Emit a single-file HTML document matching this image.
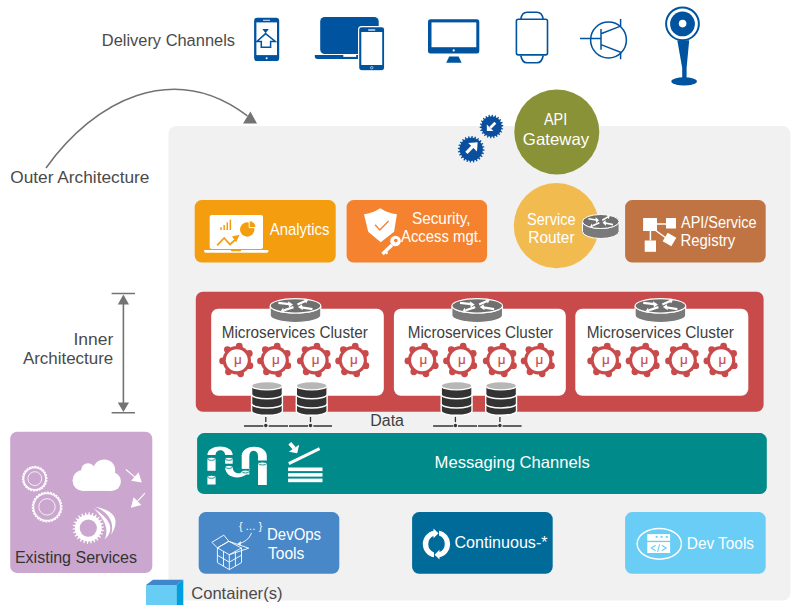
<!DOCTYPE html>
<html><head><meta charset="utf-8"><title>Microservices Architecture</title>
<style>html,body{margin:0;padding:0;background:#fff;width:791px;height:605px;overflow:hidden}svg{display:block}</style>
</head><body>
<svg width="791" height="605" viewBox="0 0 791 605" font-family='"Liberation Sans", sans-serif'><rect x="168.5" y="126" width="622" height="474.5" rx="8" fill="#f1f1f1"/>
<text x="101.8" y="46" font-size="16.3" fill="#4a4a4a" text-anchor="start" textLength="133.2" lengthAdjust="spacingAndGlyphs" >Delivery Channels</text>
<rect x="254.1" y="17.7" width="25.1" height="43.4" rx="3.2" fill="#00539f"/>
<rect x="256.4" y="22.4" width="20.6" height="32.7" fill="#fff"/>
<rect x="263" y="19.8" width="7" height="0.9" fill="#fff"/>
<circle cx="266.6" cy="58.2" r="1" fill="#fff"/>
<path d="M262.4,29 L268.8,29 L265.6,33.2 Z" fill="#00539f"/>
<path d="M265.6,33.6 L275.3,41.5 L270.6,41.5 L270.6,47.2 L261.3,47.2 L261.3,41.5 L256.9,41.5 Z" fill="none" stroke="#00539f" stroke-width="1.5" stroke-linejoin="miter"/>
<rect x="320.2" y="17" width="58.5" height="37" rx="4.5" fill="#00539f"/>
<path d="M314.8,54.9 L362,54.9 L362,58.9 L317,58.9 Q314.8,58.9 314.8,56.5 Z" fill="#00539f"/>
<rect x="343.3" y="54.9" width="12.9" height="2" fill="#fff"/>
<rect x="358.6" y="26.6" width="26.1" height="44.2" rx="3" fill="#00539f" stroke="#fff" stroke-width="1.2"/>
<rect x="361.3" y="32" width="20.9" height="33" fill="#fff"/>
<rect x="368.2" y="29.4" width="7" height="1.2" fill="#fff"/>
<circle cx="371.7" cy="67.7" r="1.2" fill="none" stroke="#fff" stroke-width="0.6"/>
<rect x="428" y="19.2" width="51.3" height="34.2" rx="2.5" fill="#00539f"/>
<rect x="431.5" y="22.4" width="44.8" height="24.8" fill="#fff"/>
<circle cx="453.7" cy="50.4" r="1.1" fill="#fff"/>
<path d="M449.2,56.4 L458.6,56.4 L461.6,62.7 L446.2,62.7 Z" fill="#00539f"/>
<rect x="516.4" y="19.3" width="31.1" height="35.6" rx="1.8" fill="none" stroke="#00539f" stroke-width="1.6"/>
<path d="M520.8,19 C521.6,14.5 523,12.2 527,12.2 L537,12.2 C541,12.2 542.4,14.5 543.2,19" fill="none" stroke="#00539f" stroke-width="1.6"/>
<path d="M520.8,55.5 C521.6,60.2 523,62.7 527,62.7 L537,62.7 C541,62.7 542.4,60.2 543.2,55.5" fill="none" stroke="#00539f" stroke-width="1.6"/>
<g fill="none" stroke="#00539f" stroke-width="1.5"><circle cx="608.5" cy="40" r="17.9"/><path d="M580,38.6 H601 M601,29 V49.7 M601,33.8 L620.6,26.1 V19.1 M601,44.6 L620.6,52.2 V59.2"/></g>
<circle cx="682.5" cy="23.8" r="16.4" fill="none" stroke="#00539f" stroke-width="2"/>
<circle cx="682.5" cy="23.9" r="12.4" fill="#00539f"/>
<circle cx="682.6" cy="23.6" r="3.8" fill="#fff"/>
<path d="M677.3,40.3 L689.2,40.3 L686.6,68 L686.6,79 L682.2,79 L682.2,68 Z" fill="#00539f"/>
<ellipse cx="684.1" cy="81.4" rx="12.8" ry="4.1" fill="#00539f"/>
<path d="M46,168 C94.3,100.4 173.2,59.7 247.4,115.8" fill="none" stroke="#737373" stroke-width="1.6"/>
<path d="M250.4,111.4 L257,123.5 L243,123.5 Z" fill="#737373"/>
<text x="10.2" y="183" font-size="17" fill="#4a4a4a" text-anchor="start" textLength="139.3" lengthAdjust="spacingAndGlyphs" >Outer Architecture</text>
<g stroke="#737373" stroke-width="1.6"><path d="M111.6,293.5 H135 M111.6,412.7 H135 M123.4,300 V406"/></g>
<path d="M123.4,294.5 L129,304.6 L117.8,304.6 Z M123.4,412 L129,402.6 L117.8,402.6 Z" fill="#737373"/>
<text x="113.3" y="344.8" font-size="16.9" fill="#4a4a4a" text-anchor="end" textLength="39.8" lengthAdjust="spacingAndGlyphs" >Inner</text>
<text x="113.3" y="364.2" font-size="16.9" fill="#4a4a4a" text-anchor="end" textLength="90.4" lengthAdjust="spacingAndGlyphs" >Architecture</text>
<circle cx="556.8" cy="131.9" r="42.5" fill="#8a9237"/>
<text x="555.6" y="125.2" font-size="16.5" fill="#fff" text-anchor="middle" textLength="23.3" lengthAdjust="spacingAndGlyphs" >API</text>
<text x="556" y="144.7" font-size="16.5" fill="#fff" text-anchor="middle" textLength="66.3" lengthAdjust="spacingAndGlyphs" >Gateway</text>
<path d="M491.50,116.30 L491.77,114.70 L492.91,114.78 L492.95,116.40 L494.37,116.71 L495.08,115.26 L496.16,115.66 L495.74,117.22 L497.01,117.92 L498.10,116.72 L499.02,117.41 L498.18,118.79 L499.21,119.82 L500.59,118.98 L501.28,119.90 L500.08,120.99 L500.78,122.26 L502.34,121.84 L502.74,122.92 L501.29,123.63 L501.60,125.05 L503.22,125.09 L503.30,126.23 L501.70,126.50 L501.60,127.95 L503.14,128.45 L502.90,129.56 L501.29,129.37 L500.78,130.74 L502.12,131.65 L501.57,132.65 L500.08,132.01 L499.21,133.18 L500.24,134.43 L499.43,135.24 L498.18,134.21 L497.01,135.08 L497.65,136.57 L496.65,137.12 L495.74,135.78 L494.37,136.29 L494.56,137.90 L493.45,138.14 L492.95,136.60 L491.50,136.70 L491.23,138.30 L490.09,138.22 L490.05,136.60 L488.63,136.29 L487.92,137.74 L486.84,137.34 L487.26,135.78 L485.99,135.08 L484.90,136.28 L483.98,135.59 L484.82,134.21 L483.79,133.18 L482.41,134.02 L481.72,133.10 L482.92,132.01 L482.22,130.74 L480.66,131.16 L480.26,130.08 L481.71,129.37 L481.40,127.95 L479.78,127.91 L479.70,126.77 L481.30,126.50 L481.40,125.05 L479.86,124.55 L480.10,123.44 L481.71,123.63 L482.22,122.26 L480.88,121.35 L481.43,120.35 L482.92,120.99 L483.79,119.82 L482.76,118.57 L483.57,117.76 L484.82,118.79 L485.99,117.92 L485.35,116.43 L486.35,115.88 L487.26,117.22 L488.63,116.71 L488.44,115.10 L489.55,114.86 L490.05,116.40Z" fill="#0a4f9e"/>
<path d="M471.20,137.70 L471.48,136.00 L472.66,136.08 L472.71,137.80 L474.20,138.10 L474.91,136.53 L476.03,136.91 L475.64,138.58 L477.00,139.25 L478.09,137.92 L479.07,138.58 L478.26,140.10 L479.40,141.10 L480.80,140.09 L481.58,140.98 L480.40,142.24 L481.25,143.50 L482.85,142.89 L483.38,143.95 L481.92,144.86 L482.40,146.30 L484.12,146.13 L484.35,147.29 L482.70,147.79 L482.80,149.30 L484.50,149.58 L484.42,150.76 L482.70,150.81 L482.40,152.30 L483.97,153.01 L483.59,154.13 L481.92,153.74 L481.25,155.10 L482.58,156.19 L481.92,157.17 L480.40,156.36 L479.40,157.50 L480.41,158.90 L479.52,159.68 L478.26,158.50 L477.00,159.35 L477.61,160.95 L476.55,161.48 L475.64,160.02 L474.20,160.50 L474.37,162.22 L473.21,162.45 L472.71,160.80 L471.20,160.90 L470.92,162.60 L469.74,162.52 L469.69,160.80 L468.20,160.50 L467.49,162.07 L466.37,161.69 L466.76,160.02 L465.40,159.35 L464.31,160.68 L463.33,160.02 L464.14,158.50 L463.00,157.50 L461.60,158.51 L460.82,157.62 L462.00,156.36 L461.15,155.10 L459.55,155.71 L459.02,154.65 L460.48,153.74 L460.00,152.30 L458.28,152.47 L458.05,151.31 L459.70,150.81 L459.60,149.30 L457.90,149.02 L457.98,147.84 L459.70,147.79 L460.00,146.30 L458.43,145.59 L458.81,144.47 L460.48,144.86 L461.15,143.50 L459.82,142.41 L460.48,141.43 L462.00,142.24 L463.00,141.10 L461.99,139.70 L462.88,138.92 L464.14,140.10 L465.40,139.25 L464.79,137.65 L465.85,137.12 L466.76,138.58 L468.20,138.10 L468.03,136.38 L469.19,136.15 L469.69,137.80Z" fill="#0a4f9e"/>
<path d="M495.3,122.8 L490.3,127.8" stroke="#fff" stroke-width="2.7"/><path d="M486.9,131.1 L486.8,124.4 L493.4,131 Z" fill="#fff"/>
<path d="M466.4,152.8 L472.5,146.7" stroke="#fff" stroke-width="3.2"/><path d="M477.6,142.3 L477,151.5 L468.2,143 Z" fill="#fff"/>
<rect x="194.7" y="200.1" width="141" height="62.4" rx="7" fill="#f39d0f"/>
<rect x="346.6" y="200.1" width="140.5" height="62.4" rx="7" fill="#f5822f"/>
<circle cx="556.4" cy="225.7" r="42.6" fill="#f2bb50"/>
<rect x="625.1" y="200.1" width="140.6" height="62.4" rx="7" fill="#c07443"/>
<rect x="209.7" y="214.9" width="53.3" height="34.2" rx="2" fill="#fff"/>
<path d="M204.2,250 H268.3 V251.3 Q268.3,252.8 266.5,252.8 H206 Q204.2,252.8 204.2,251.3 Z" fill="#fff"/>
<rect x="231" y="250" width="10" height="1.2" fill="#f39d0f"/>
<g fill="#f39d0f"><rect x="220.3" y="227.2" width="1.5" height="2.8"/><rect x="223.4" y="225" width="1.5" height="5"/><rect x="226.5" y="222.4" width="1.5" height="7.6"/><rect x="229.6" y="219.6" width="1.5" height="10.4"/></g>
<circle cx="247.2" cy="229.5" r="7.2" fill="#f39d0f"/><path d="M249.2,220.6 A7.2,7.2 0 0 1 256.1,227.6 L249.2,227.6 Z" fill="#f39d0f" stroke="#fff" stroke-width="1"/>
<path d="M217.1,245.4 L224.2,237.9 L229.9,244.5 L235,240" fill="none" stroke="#f39d0f" stroke-width="1.7"/><path d="M239.5,234.8 L232,236.4 L236.2,242.2 Z" fill="#f39d0f"/>
<text x="269.7" y="235.2" font-size="16" fill="#fff" text-anchor="start" textLength="59.7" lengthAdjust="spacingAndGlyphs" >Analytics</text>
<path d="M380.2,208.2 Q388,213.2 396.9,214.2 L394.1,231.8 L380.7,242.2 L368.2,231.8 L364,214.2 Q372.4,213.2 380.2,208.2 Z" fill="#fff"/>
<path d="M375.1,224.8 L379.8,229.9 L388.6,221.1" fill="none" stroke="#f5822f" stroke-width="1.4"/>
<circle cx="395.5" cy="241" r="5.9" fill="#fff" stroke="#f5822f" stroke-width="1.2"/><circle cx="395.8" cy="240.6" r="1.8" fill="#f5822f"/>
<path d="M392,245 L382.5,254" stroke="#fff" stroke-width="3.4"/><path d="M385.2,251.5 L387.5,253.8" stroke="#fff" stroke-width="2.2"/>
<text x="441.2" y="224.4" font-size="16" fill="#fff" text-anchor="middle" textLength="58.5" lengthAdjust="spacingAndGlyphs" >Security,</text>
<text x="441.5" y="242" font-size="16" fill="#fff" text-anchor="middle" textLength="81" lengthAdjust="spacingAndGlyphs" >Access mgt.</text>
<text x="551.3" y="225.2" font-size="15.8" fill="#fff" text-anchor="middle" textLength="48.5" lengthAdjust="spacingAndGlyphs" >Service</text>
<text x="551.4" y="242.7" font-size="15.8" fill="#fff" text-anchor="middle" textLength="46.3" lengthAdjust="spacingAndGlyphs" >Router</text>
<g fill="#fff"><rect x="643.1" y="218" width="13.9" height="13"/><rect x="666" y="218" width="10" height="10.5"/><rect x="644.7" y="240.5" width="11.3" height="11.3"/><rect x="664.5" y="234.5" width="10" height="10" transform="rotate(30 669.5 239.5)"/></g>
<path d="M657,224 H666 M650.4,231 V240.5 M655,230 L666,238" stroke="#fff" stroke-width="1.5"/>
<text x="681" y="228" font-size="15.8" fill="#fff" text-anchor="start" textLength="75.6" lengthAdjust="spacingAndGlyphs" >API/Service</text>
<text x="680.5" y="246" font-size="15.8" fill="#fff" text-anchor="start" textLength="54.7" lengthAdjust="spacingAndGlyphs" >Registry</text>
<rect x="195.8" y="291.8" width="567.8" height="120" rx="7" fill="#c94a4b"/>
<rect x="211.2" y="308.8" width="172.6" height="87" rx="7" fill="#fff"/>
<rect x="393.9" y="308.8" width="171.9" height="87" rx="7" fill="#fff"/>
<rect x="575.3" y="308.8" width="173.0" height="87" rx="7" fill="#fff"/>
<circle cx="236.8" cy="360.2" r="14.2" fill="#c94a4b"/><circle cx="239.27" cy="346.22" r="3.4" fill="#c94a4b"/><circle cx="249.27" cy="353.41" r="3.4" fill="#c94a4b"/><circle cx="249.88" cy="365.72" r="3.4" fill="#c94a4b"/><circle cx="240.65" cy="373.87" r="3.4" fill="#c94a4b"/><circle cx="228.51" cy="371.73" r="3.4" fill="#c94a4b"/><circle cx="222.62" cy="360.91" r="3.4" fill="#c94a4b"/><circle cx="227.40" cy="349.55" r="3.4" fill="#c94a4b"/><circle cx="236.8" cy="360.2" r="11" fill="#fff"/><text x="238.0" y="363.5" font-size="13.5" fill="#c94a4b" stroke="#c94a4b" stroke-width="0.15" text-anchor="middle">μ</text>
<circle cx="274.7" cy="360.2" r="14.2" fill="#c94a4b"/><circle cx="277.17" cy="346.22" r="3.4" fill="#c94a4b"/><circle cx="287.17" cy="353.41" r="3.4" fill="#c94a4b"/><circle cx="287.78" cy="365.72" r="3.4" fill="#c94a4b"/><circle cx="278.55" cy="373.87" r="3.4" fill="#c94a4b"/><circle cx="266.41" cy="371.73" r="3.4" fill="#c94a4b"/><circle cx="260.52" cy="360.91" r="3.4" fill="#c94a4b"/><circle cx="265.30" cy="349.55" r="3.4" fill="#c94a4b"/><circle cx="274.7" cy="360.2" r="11" fill="#fff"/><text x="275.9" y="363.5" font-size="13.5" fill="#c94a4b" stroke="#c94a4b" stroke-width="0.15" text-anchor="middle">μ</text>
<circle cx="314.5" cy="360.2" r="14.2" fill="#c94a4b"/><circle cx="316.97" cy="346.22" r="3.4" fill="#c94a4b"/><circle cx="326.97" cy="353.41" r="3.4" fill="#c94a4b"/><circle cx="327.58" cy="365.72" r="3.4" fill="#c94a4b"/><circle cx="318.35" cy="373.87" r="3.4" fill="#c94a4b"/><circle cx="306.21" cy="371.73" r="3.4" fill="#c94a4b"/><circle cx="300.32" cy="360.91" r="3.4" fill="#c94a4b"/><circle cx="305.10" cy="349.55" r="3.4" fill="#c94a4b"/><circle cx="314.5" cy="360.2" r="11" fill="#fff"/><text x="315.7" y="363.5" font-size="13.5" fill="#c94a4b" stroke="#c94a4b" stroke-width="0.15" text-anchor="middle">μ</text>
<circle cx="352.8" cy="360.2" r="14.2" fill="#c94a4b"/><circle cx="355.27" cy="346.22" r="3.4" fill="#c94a4b"/><circle cx="365.27" cy="353.41" r="3.4" fill="#c94a4b"/><circle cx="365.88" cy="365.72" r="3.4" fill="#c94a4b"/><circle cx="356.65" cy="373.87" r="3.4" fill="#c94a4b"/><circle cx="344.51" cy="371.73" r="3.4" fill="#c94a4b"/><circle cx="338.62" cy="360.91" r="3.4" fill="#c94a4b"/><circle cx="343.40" cy="349.55" r="3.4" fill="#c94a4b"/><circle cx="352.8" cy="360.2" r="11" fill="#fff"/><text x="354.0" y="363.5" font-size="13.5" fill="#c94a4b" stroke="#c94a4b" stroke-width="0.15" text-anchor="middle">μ</text>
<circle cx="422.1" cy="360.2" r="14.2" fill="#c94a4b"/><circle cx="424.57" cy="346.22" r="3.4" fill="#c94a4b"/><circle cx="434.57" cy="353.41" r="3.4" fill="#c94a4b"/><circle cx="435.18" cy="365.72" r="3.4" fill="#c94a4b"/><circle cx="425.95" cy="373.87" r="3.4" fill="#c94a4b"/><circle cx="413.81" cy="371.73" r="3.4" fill="#c94a4b"/><circle cx="407.92" cy="360.91" r="3.4" fill="#c94a4b"/><circle cx="412.70" cy="349.55" r="3.4" fill="#c94a4b"/><circle cx="422.1" cy="360.2" r="11" fill="#fff"/><text x="423.3" y="363.5" font-size="13.5" fill="#c94a4b" stroke="#c94a4b" stroke-width="0.15" text-anchor="middle">μ</text>
<circle cx="460.7" cy="360.2" r="14.2" fill="#c94a4b"/><circle cx="463.17" cy="346.22" r="3.4" fill="#c94a4b"/><circle cx="473.17" cy="353.41" r="3.4" fill="#c94a4b"/><circle cx="473.78" cy="365.72" r="3.4" fill="#c94a4b"/><circle cx="464.55" cy="373.87" r="3.4" fill="#c94a4b"/><circle cx="452.41" cy="371.73" r="3.4" fill="#c94a4b"/><circle cx="446.52" cy="360.91" r="3.4" fill="#c94a4b"/><circle cx="451.30" cy="349.55" r="3.4" fill="#c94a4b"/><circle cx="460.7" cy="360.2" r="11" fill="#fff"/><text x="461.9" y="363.5" font-size="13.5" fill="#c94a4b" stroke="#c94a4b" stroke-width="0.15" text-anchor="middle">μ</text>
<circle cx="500.4" cy="360.2" r="14.2" fill="#c94a4b"/><circle cx="502.87" cy="346.22" r="3.4" fill="#c94a4b"/><circle cx="512.87" cy="353.41" r="3.4" fill="#c94a4b"/><circle cx="513.48" cy="365.72" r="3.4" fill="#c94a4b"/><circle cx="504.25" cy="373.87" r="3.4" fill="#c94a4b"/><circle cx="492.11" cy="371.73" r="3.4" fill="#c94a4b"/><circle cx="486.22" cy="360.91" r="3.4" fill="#c94a4b"/><circle cx="491.00" cy="349.55" r="3.4" fill="#c94a4b"/><circle cx="500.4" cy="360.2" r="11" fill="#fff"/><text x="501.59999999999997" y="363.5" font-size="13.5" fill="#c94a4b" stroke="#c94a4b" stroke-width="0.15" text-anchor="middle">μ</text>
<circle cx="538.3" cy="360.2" r="14.2" fill="#c94a4b"/><circle cx="540.77" cy="346.22" r="3.4" fill="#c94a4b"/><circle cx="550.77" cy="353.41" r="3.4" fill="#c94a4b"/><circle cx="551.38" cy="365.72" r="3.4" fill="#c94a4b"/><circle cx="542.15" cy="373.87" r="3.4" fill="#c94a4b"/><circle cx="530.01" cy="371.73" r="3.4" fill="#c94a4b"/><circle cx="524.12" cy="360.91" r="3.4" fill="#c94a4b"/><circle cx="528.90" cy="349.55" r="3.4" fill="#c94a4b"/><circle cx="538.3" cy="360.2" r="11" fill="#fff"/><text x="539.5" y="363.5" font-size="13.5" fill="#c94a4b" stroke="#c94a4b" stroke-width="0.15" text-anchor="middle">μ</text>
<circle cx="604.8" cy="360.2" r="14.2" fill="#c94a4b"/><circle cx="607.27" cy="346.22" r="3.4" fill="#c94a4b"/><circle cx="617.27" cy="353.41" r="3.4" fill="#c94a4b"/><circle cx="617.88" cy="365.72" r="3.4" fill="#c94a4b"/><circle cx="608.65" cy="373.87" r="3.4" fill="#c94a4b"/><circle cx="596.51" cy="371.73" r="3.4" fill="#c94a4b"/><circle cx="590.62" cy="360.91" r="3.4" fill="#c94a4b"/><circle cx="595.40" cy="349.55" r="3.4" fill="#c94a4b"/><circle cx="604.8" cy="360.2" r="11" fill="#fff"/><text x="606.0" y="363.5" font-size="13.5" fill="#c94a4b" stroke="#c94a4b" stroke-width="0.15" text-anchor="middle">μ</text>
<circle cx="643.2" cy="360.2" r="14.2" fill="#c94a4b"/><circle cx="645.67" cy="346.22" r="3.4" fill="#c94a4b"/><circle cx="655.67" cy="353.41" r="3.4" fill="#c94a4b"/><circle cx="656.28" cy="365.72" r="3.4" fill="#c94a4b"/><circle cx="647.05" cy="373.87" r="3.4" fill="#c94a4b"/><circle cx="634.91" cy="371.73" r="3.4" fill="#c94a4b"/><circle cx="629.02" cy="360.91" r="3.4" fill="#c94a4b"/><circle cx="633.80" cy="349.55" r="3.4" fill="#c94a4b"/><circle cx="643.2" cy="360.2" r="11" fill="#fff"/><text x="644.4000000000001" y="363.5" font-size="13.5" fill="#c94a4b" stroke="#c94a4b" stroke-width="0.15" text-anchor="middle">μ</text>
<circle cx="682.7" cy="360.2" r="14.2" fill="#c94a4b"/><circle cx="685.17" cy="346.22" r="3.4" fill="#c94a4b"/><circle cx="695.17" cy="353.41" r="3.4" fill="#c94a4b"/><circle cx="695.78" cy="365.72" r="3.4" fill="#c94a4b"/><circle cx="686.55" cy="373.87" r="3.4" fill="#c94a4b"/><circle cx="674.41" cy="371.73" r="3.4" fill="#c94a4b"/><circle cx="668.52" cy="360.91" r="3.4" fill="#c94a4b"/><circle cx="673.30" cy="349.55" r="3.4" fill="#c94a4b"/><circle cx="682.7" cy="360.2" r="11" fill="#fff"/><text x="683.9000000000001" y="363.5" font-size="13.5" fill="#c94a4b" stroke="#c94a4b" stroke-width="0.15" text-anchor="middle">μ</text>
<circle cx="721.1" cy="360.2" r="14.2" fill="#c94a4b"/><circle cx="723.57" cy="346.22" r="3.4" fill="#c94a4b"/><circle cx="733.57" cy="353.41" r="3.4" fill="#c94a4b"/><circle cx="734.18" cy="365.72" r="3.4" fill="#c94a4b"/><circle cx="724.95" cy="373.87" r="3.4" fill="#c94a4b"/><circle cx="712.81" cy="371.73" r="3.4" fill="#c94a4b"/><circle cx="706.92" cy="360.91" r="3.4" fill="#c94a4b"/><circle cx="711.70" cy="349.55" r="3.4" fill="#c94a4b"/><circle cx="721.1" cy="360.2" r="11" fill="#fff"/><text x="722.3000000000001" y="363.5" font-size="13.5" fill="#c94a4b" stroke="#c94a4b" stroke-width="0.15" text-anchor="middle">μ</text>
<text x="221.7" y="338.1" font-size="16" fill="#404040" text-anchor="start" textLength="146.2" lengthAdjust="spacingAndGlyphs" >Microservices Cluster</text>
<text x="407.8" y="338.1" font-size="16" fill="#404040" text-anchor="start" textLength="145.4" lengthAdjust="spacingAndGlyphs" >Microservices Cluster</text>
<text x="586.8" y="338.1" font-size="16" fill="#404040" text-anchor="start" textLength="147.1" lengthAdjust="spacingAndGlyphs" >Microservices Cluster</text>
<g><path d="M270.2,305.8 A25.3,7.2 0 0 0 320.8,305.8 L320.8,315.3 A25.3,7.2 0 0 1 270.2,315.3 Z" fill="#7a7a7a" stroke="#fff" stroke-width="1.1"/><ellipse cx="295.5" cy="305.8" rx="25.3" ry="7.2" fill="#6f6f6f" stroke="#fff" stroke-width="1.1"/><path d="M278.34,302.94 L289.55,304.22 M312.47,309.05 L301.45,307.38 M293.52,307.08 L284.09,310.24 M297.48,304.52 L305.42,301.07" stroke="#fff" stroke-width="2.28"/><path d="M293.02,304.62 L288.06,301.26 L289.05,307.38 Z M297.98,306.98 L302.94,310.34 L301.95,304.22 Z M280.62,311.32 L284.69,312.61 L283.10,307.87 Z M308.20,299.78 L306.12,303.43 L303.93,298.90 Z" fill="#fff"/></g>
<g><path d="M451.9,305.8 A25.3,7.2 0 0 0 502.5,305.8 L502.5,315.3 A25.3,7.2 0 0 1 451.9,315.3 Z" fill="#7a7a7a" stroke="#fff" stroke-width="1.1"/><ellipse cx="477.2" cy="305.8" rx="25.3" ry="7.2" fill="#6f6f6f" stroke="#fff" stroke-width="1.1"/><path d="M460.04,302.94 L471.25,304.22 M494.17,309.05 L483.15,307.38 M475.22,307.08 L465.79,310.24 M479.18,304.52 L487.12,301.07" stroke="#fff" stroke-width="2.28"/><path d="M474.72,304.62 L469.76,301.26 L470.75,307.38 Z M479.68,306.98 L484.64,310.34 L483.65,304.22 Z M462.32,311.32 L466.39,312.61 L464.80,307.87 Z M489.90,299.78 L487.82,303.43 L485.63,298.90 Z" fill="#fff"/></g>
<g><path d="M635.1,305.8 A25.3,7.2 0 0 0 685.6999999999999,305.8 L685.6999999999999,315.3 A25.3,7.2 0 0 1 635.1,315.3 Z" fill="#7a7a7a" stroke="#fff" stroke-width="1.1"/><ellipse cx="660.4" cy="305.8" rx="25.3" ry="7.2" fill="#6f6f6f" stroke="#fff" stroke-width="1.1"/><path d="M643.24,302.94 L654.45,304.22 M677.37,309.05 L666.35,307.38 M658.42,307.08 L648.99,310.24 M662.38,304.52 L670.32,301.07" stroke="#fff" stroke-width="2.28"/><path d="M657.92,304.62 L652.96,301.26 L653.95,307.38 Z M662.88,306.98 L667.84,310.34 L666.85,304.22 Z M645.52,311.32 L649.59,312.61 L648.00,307.87 Z M673.10,299.78 L671.02,303.43 L668.83,298.90 Z" fill="#fff"/></g>
<g><path d="M582.5,221.5 A18.3,7 0 0 0 619.0999999999999,221.5 L619.0999999999999,231.5 A18.3,7 0 0 1 582.5,231.5 Z" fill="#7a7a7a" stroke="#fff" stroke-width="1"/><ellipse cx="600.8" cy="221.5" rx="18.3" ry="7" fill="#6f6f6f" stroke="#fff" stroke-width="1"/><path d="M588.38,218.72 L596.49,219.97 M613.07,224.66 L605.11,223.03 M599.36,222.75 L592.55,225.82 M602.24,220.25 L607.98,216.90" stroke="#fff" stroke-width="1.65"/><path d="M599.01,220.35 L595.42,217.09 L596.14,223.03 Z M602.59,222.65 L606.18,225.91 L605.46,219.97 Z M590.04,226.87 L592.98,228.12 L591.83,223.51 Z M609.99,215.65 L608.48,219.20 L606.90,214.79 Z" fill="#fff"/></g>
<path d="M251.6,385.7 A15.4,4.2 0 0 1 282.4,385.7 L282.4,411.1 A15.4,4.2 0 0 1 251.6,411.1 Z" fill="#333" stroke="#fff" stroke-width="1.4"/><path d="M251.6,394.5 A15.4,4.2 0 0 0 282.4,394.5" fill="none" stroke="#fff" stroke-width="1.5"/><path d="M251.6,403.7 A15.4,4.2 0 0 0 282.4,403.7" fill="none" stroke="#fff" stroke-width="1.5"/><ellipse cx="267.0" cy="385.7" rx="15.4" ry="4.2" fill="#b7b7b7" stroke="#fff" stroke-width="1.4"/><path d="M265.8,416.90000000000003 V422.1" stroke="#333" stroke-width="1.3"/><circle cx="265.8" cy="425.5" r="1.7" fill="#333"/>
<path d="M296.3,385.7 A15.4,4.2 0 0 1 327.1,385.7 L327.1,411.1 A15.4,4.2 0 0 1 296.3,411.1 Z" fill="#333" stroke="#fff" stroke-width="1.4"/><path d="M296.3,394.5 A15.4,4.2 0 0 0 327.1,394.5" fill="none" stroke="#fff" stroke-width="1.5"/><path d="M296.3,403.7 A15.4,4.2 0 0 0 327.1,403.7" fill="none" stroke="#fff" stroke-width="1.5"/><ellipse cx="311.7" cy="385.7" rx="15.4" ry="4.2" fill="#b7b7b7" stroke="#fff" stroke-width="1.4"/><path d="M310.5,416.90000000000003 V422.1" stroke="#333" stroke-width="1.3"/><circle cx="310.5" cy="425.5" r="1.7" fill="#333"/>
<path d="M441.2,385.7 A15.4,4.2 0 0 1 472.0,385.7 L472.0,411.1 A15.4,4.2 0 0 1 441.2,411.1 Z" fill="#333" stroke="#fff" stroke-width="1.4"/><path d="M441.2,394.5 A15.4,4.2 0 0 0 472.0,394.5" fill="none" stroke="#fff" stroke-width="1.5"/><path d="M441.2,403.7 A15.4,4.2 0 0 0 472.0,403.7" fill="none" stroke="#fff" stroke-width="1.5"/><ellipse cx="456.59999999999997" cy="385.7" rx="15.4" ry="4.2" fill="#b7b7b7" stroke="#fff" stroke-width="1.4"/><path d="M455.4,416.90000000000003 V422.1" stroke="#333" stroke-width="1.3"/><circle cx="455.4" cy="425.5" r="1.7" fill="#333"/>
<path d="M485.7,385.7 A15.4,4.2 0 0 1 516.5,385.7 L516.5,411.1 A15.4,4.2 0 0 1 485.7,411.1 Z" fill="#333" stroke="#fff" stroke-width="1.4"/><path d="M485.7,394.5 A15.4,4.2 0 0 0 516.5,394.5" fill="none" stroke="#fff" stroke-width="1.5"/><path d="M485.7,403.7 A15.4,4.2 0 0 0 516.5,403.7" fill="none" stroke="#fff" stroke-width="1.5"/><ellipse cx="501.09999999999997" cy="385.7" rx="15.4" ry="4.2" fill="#b7b7b7" stroke="#fff" stroke-width="1.4"/><path d="M499.9,416.90000000000003 V422.1" stroke="#333" stroke-width="1.3"/><circle cx="499.9" cy="425.5" r="1.7" fill="#333"/>
<path d="M244,426 H263.3 M268.7,426 H288 M289,426 H308 M313.4,426 H332 M433.1,426 H453.3 M458,426 H477 M478,426 H497.6 M502.6,426 H521.6" stroke="#333" stroke-width="1.3"/>
<text x="370.3" y="425.7" font-size="16" fill="#404040" text-anchor="start" textLength="33.7" lengthAdjust="spacingAndGlyphs" >Data</text>
<rect x="197.1" y="433.1" width="569.7" height="61" rx="7" fill="#008a8a"/>
<text x="434.6" y="467.8" font-size="16.5" fill="#fff" text-anchor="start" textLength="155.2" lengthAdjust="spacingAndGlyphs" >Messaging Channels</text>
<g fill="#fff"><path d="M207.4,455 C207.4,443.6 232.7,443.6 232.7,455 L225.1,455 C225.1,448.6 215.6,448.6 215.6,455 Z"/><rect x="207.4" y="458.4" width="8.2" height="12.4"/><rect x="207.4" y="476.5" width="8.2" height="8"/><rect x="225.1" y="458.4" width="7.6" height="5.3"/><path d="M225.1,467 C225.1,481 249.3,481 249.3,467 L249.3,471.5 L241.7,471.5 C241.7,474.5 232.7,474.5 232.7,467 Z"/><path d="M241.7,456 C241.7,443.6 266.8,443.6 266.8,456 L266.8,460.4 L258,460.4 L258,456 C258,449 249.3,449 249.3,456 Z"/><rect x="241.7" y="455.5" width="7.6" height="13.4"/><rect x="258" y="463.4" width="8.8" height="21.6"/><rect x="225.1" y="467" width="7.6" height="1"/><rect x="241.7" y="471.5" width="7.6" height="3"/></g>
<g fill="#fff" stroke="#008a8a" stroke-width="0.9"><ellipse cx="211.5" cy="458.8" rx="3.9" ry="1.5"/><ellipse cx="211.5" cy="476.8" rx="3.9" ry="1.5"/><ellipse cx="228.9" cy="458.8" rx="3.6" ry="1.5"/><ellipse cx="228.9" cy="466.9" rx="3.6" ry="1.5"/><ellipse cx="245.5" cy="471.5" rx="3.6" ry="1.5"/><ellipse cx="262.4" cy="463.5" rx="4.2" ry="1.5"/></g>
<path d="M288.8,463.6 L319.6,448.6" stroke="#fff" stroke-width="3"/>
<path d="M289.8,443.2 L294.2,448.2" stroke="#fff" stroke-width="3.8"/><path d="M288.8,451.8 L297.2,453.2 L299.2,444.8 Z" fill="#fff"/>
<g fill="#fff"><rect x="288.1" y="467.5" width="34.4" height="3.6"/><rect x="288.1" y="473.1" width="34.4" height="3.5"/><rect x="288.1" y="478.6" width="34.4" height="3.6"/></g>
<rect x="198.7" y="512.1" width="140.6" height="61.7" rx="7" fill="#4887c8"/>
<rect x="412.1" y="512.1" width="140.6" height="61.7" rx="7" fill="#006a98"/>
<rect x="625.1" y="512.1" width="140.6" height="61.7" rx="7" fill="#69cdf5"/>
<text x="267" y="540.4" font-size="16" fill="#fff" text-anchor="start" textLength="54.1" lengthAdjust="spacingAndGlyphs" >DevOps</text>
<text x="268" y="558.5" font-size="16" fill="#fff" text-anchor="start" textLength="36.3" lengthAdjust="spacingAndGlyphs" >Tools</text>
<text x="454.5" y="547.9" font-size="16" fill="#fff" text-anchor="start" textLength="93" lengthAdjust="spacingAndGlyphs" >Continuous-*</text>
<text x="686.8" y="549.1" font-size="16" fill="#fff" text-anchor="start" textLength="67.2" lengthAdjust="spacingAndGlyphs" >Dev Tools</text>
<g fill="none" stroke="#fff" stroke-width="0.9" stroke-linejoin="round"><polygon points="211.90,542.30 223.80,535.10 228.80,541.30 217.40,547.90"/><polygon points="217.40,547.90 228.80,541.30 241.50,548.00 229.30,554.70"/><polyline points="217.40,547.90 217.40,562.60 229.30,569.60 241.50,562.60 241.50,548.00"/><polyline points="229.30,554.70 229.30,569.60"/><polyline points="228.80,541.30 248.70,548.20 229.30,554.70"/><polyline points="217.40,555.20 229.30,562.10 241.50,555.20"/><polyline points="223.50,551.40 223.50,566.10"/><polyline points="235.40,551.40 235.40,566.10"/><path d="M251.6,532.9 Q248,542 238,543.8"/></g>
<path d="M237.3,543.9 L241,541.3 L240.5,545.5 Z" fill="#fff"/>
<text x="250.6" y="529.6" font-size="10.5" fill="#fff" text-anchor="middle">{ … }</text>
<path d="M434.0,530.7 A13.5,13.5 0 0 0 434.0,557.3 L434.0,552.5 A9,9 0 0 1 434.0,535.7 Z" fill="#fff"/>
<path d="M434.0,530.7 A13.5,13.5 0 0 0 434.0,557.3 L434.0,552.5 A9,9 0 0 1 434.0,535.7 Z" fill="#fff" transform="rotate(180 436.5 544)"/>
<path d="M433.5,528.5 L438.5,533.3 L433.5,538.2 Z" fill="#fff"/>
<path d="M433.5,528.5 L438.5,533.3 L433.5,538.2 Z" fill="#fff" transform="rotate(180 436.5 544)"/>
<ellipse cx="659.3" cy="543.8" rx="22.15" ry="15.4" fill="none" stroke="#fff" stroke-width="1.5"/>
<rect x="647.3" y="534.1" width="22.8" height="6.7" fill="#fff"/><rect x="647.3" y="542.1" width="22.8" height="10.9" fill="#fff"/>
<g fill="#69cdf5"><rect x="655.7" y="535.9" width="1.9" height="1.9"/><rect x="660.6" y="535.9" width="1.9" height="1.9"/><rect x="665.8" y="535.9" width="1.9" height="1.9"/></g>
<path d="M655.6,545.2 L651.3,548 L655.6,550.8 M661.8,545.2 L666.1,548 L661.8,550.8 M659.6,544.4 L657.6,551.8" fill="none" stroke="#69cdf5" stroke-width="1.1"/>
<rect x="10.2" y="431.8" width="142.1" height="141.2" rx="7" fill="#cba6cf"/>
<text x="14.9" y="563.2" font-size="16" fill="#333" text-anchor="start" textLength="122.1" lengthAdjust="spacingAndGlyphs" >Existing Services</text>
<path d="M34.70,467.80 L34.94,466.50 L35.94,466.56 L36.01,467.88 L37.31,468.12 L37.85,466.91 L38.80,467.21 L38.57,468.51 L39.77,469.05 L40.58,468.01 L41.43,468.53 L40.89,469.73 L41.93,470.54 L42.97,469.73 L43.67,470.43 L42.86,471.47 L43.67,472.51 L44.87,471.97 L45.39,472.82 L44.35,473.63 L44.89,474.83 L46.19,474.60 L46.49,475.55 L45.28,476.09 L45.52,477.39 L46.84,477.46 L46.90,478.46 L45.60,478.70 L45.52,480.01 L46.78,480.40 L46.60,481.39 L45.28,481.31 L44.89,482.57 L46.02,483.25 L45.61,484.16 L44.35,483.77 L43.67,484.89 L44.60,485.82 L43.99,486.61 L42.86,485.93 L41.93,486.86 L42.61,487.99 L41.82,488.60 L40.89,487.67 L39.77,488.35 L40.16,489.61 L39.25,490.02 L38.57,488.89 L37.31,489.28 L37.39,490.60 L36.40,490.78 L36.01,489.52 L34.70,489.60 L34.46,490.90 L33.46,490.84 L33.39,489.52 L32.09,489.28 L31.55,490.49 L30.60,490.19 L30.83,488.89 L29.63,488.35 L28.82,489.39 L27.97,488.87 L28.51,487.67 L27.47,486.86 L26.43,487.67 L25.73,486.97 L26.54,485.93 L25.73,484.89 L24.53,485.43 L24.01,484.58 L25.05,483.77 L24.51,482.57 L23.21,482.80 L22.91,481.85 L24.12,481.31 L23.88,480.01 L22.56,479.94 L22.50,478.94 L23.80,478.70 L23.88,477.39 L22.62,477.00 L22.80,476.01 L24.12,476.09 L24.51,474.83 L23.38,474.15 L23.79,473.24 L25.05,473.63 L25.73,472.51 L24.80,471.58 L25.41,470.79 L26.54,471.47 L27.47,470.54 L26.79,469.41 L27.58,468.80 L28.51,469.73 L29.63,469.05 L29.24,467.79 L30.15,467.38 L30.83,468.51 L32.09,468.12 L32.01,466.80 L33.00,466.62 L33.39,467.88Z" fill="none" stroke="#fff" stroke-width="1.2"/>
<circle cx="34.8" cy="478.6" r="6.9" fill="none" stroke="#fff" stroke-width="0.8"/>
<path d="M47.10,493.60 L47.35,492.20 L48.40,492.26 L48.50,493.67 L49.89,493.89 L50.42,492.58 L51.44,492.85 L51.24,494.26 L52.55,494.76 L53.35,493.58 L54.28,494.06 L53.80,495.40 L54.98,496.16 L56.00,495.17 L56.82,495.84 L56.07,497.04 L57.06,498.03 L58.26,497.28 L58.93,498.10 L57.94,499.12 L58.70,500.30 L60.04,499.82 L60.52,500.75 L59.34,501.55 L59.84,502.86 L61.25,502.66 L61.52,503.68 L60.21,504.21 L60.43,505.60 L61.84,505.70 L61.90,506.75 L60.50,507.00 L60.43,508.40 L61.79,508.79 L61.63,509.83 L60.21,509.79 L59.84,511.14 L61.10,511.81 L60.72,512.79 L59.34,512.45 L58.70,513.70 L59.79,514.61 L59.22,515.50 L57.94,514.88 L57.06,515.97 L57.93,517.09 L57.19,517.83 L56.07,516.96 L54.98,517.84 L55.60,519.12 L54.71,519.69 L53.80,518.60 L52.55,519.24 L52.89,520.62 L51.91,521.00 L51.24,519.74 L49.89,520.11 L49.93,521.53 L48.89,521.69 L48.50,520.33 L47.10,520.40 L46.85,521.80 L45.80,521.74 L45.70,520.33 L44.31,520.11 L43.78,521.42 L42.76,521.15 L42.96,519.74 L41.65,519.24 L40.85,520.42 L39.92,519.94 L40.40,518.60 L39.22,517.84 L38.20,518.83 L37.38,518.16 L38.13,516.96 L37.14,515.97 L35.94,516.72 L35.27,515.90 L36.26,514.88 L35.50,513.70 L34.16,514.18 L33.68,513.25 L34.86,512.45 L34.36,511.14 L32.95,511.34 L32.68,510.32 L33.99,509.79 L33.77,508.40 L32.36,508.30 L32.30,507.25 L33.70,507.00 L33.77,505.60 L32.41,505.21 L32.57,504.17 L33.99,504.21 L34.36,502.86 L33.10,502.19 L33.48,501.21 L34.86,501.55 L35.50,500.30 L34.41,499.39 L34.98,498.50 L36.26,499.12 L37.14,498.03 L36.27,496.91 L37.01,496.17 L38.13,497.04 L39.22,496.16 L38.60,494.88 L39.49,494.31 L40.40,495.40 L41.65,494.76 L41.31,493.38 L42.29,493.00 L42.96,494.26 L44.31,493.89 L44.27,492.47 L45.31,492.31 L45.70,493.67Z" fill="none" stroke="#fff" stroke-width="1.2"/>
<circle cx="47" cy="506.9" r="8.2" fill="none" stroke="#fff" stroke-width="0.8"/>
<path d="M88.30,514.60 L88.60,512.30 L89.70,512.36 L89.75,514.68 L91.51,514.99 L92.35,512.83 L93.40,513.15 L92.90,515.41 L94.53,516.13 L95.86,514.24 L96.81,514.81 L95.78,516.88 L97.19,517.97 L98.94,516.45 L99.72,517.22 L98.22,518.99 L99.33,520.39 L101.39,519.33 L101.97,520.27 L100.09,521.63 L100.83,523.25 L103.08,522.72 L103.42,523.77 L101.27,524.64 L101.60,526.38 L103.92,526.41 L103.99,527.51 L101.70,527.84 L101.60,529.62 L103.85,530.19 L103.65,531.28 L101.35,531.05 L100.83,532.75 L102.87,533.85 L102.42,534.86 L100.24,534.08 L99.33,535.61 L101.05,537.17 L100.37,538.04 L98.44,536.76 L97.19,538.03 L98.48,539.95 L97.62,540.63 L96.04,538.94 L94.53,539.87 L95.33,542.04 L94.33,542.50 L93.20,540.47 L91.51,541.01 L91.76,543.31 L90.68,543.52 L90.08,541.28 L88.30,541.40 L88.00,543.70 L86.90,543.64 L86.85,541.32 L85.09,541.01 L84.25,543.17 L83.20,542.85 L83.70,540.59 L82.07,539.87 L80.74,541.76 L79.79,541.19 L80.82,539.12 L79.41,538.03 L77.66,539.55 L76.88,538.78 L78.38,537.01 L77.27,535.61 L75.21,536.67 L74.63,535.73 L76.51,534.37 L75.77,532.75 L73.52,533.28 L73.18,532.23 L75.33,531.36 L75.00,529.62 L72.68,529.59 L72.61,528.49 L74.90,528.16 L75.00,526.38 L72.75,525.81 L72.95,524.72 L75.25,524.95 L75.77,523.25 L73.73,522.15 L74.18,521.14 L76.36,521.92 L77.27,520.39 L75.55,518.83 L76.23,517.96 L78.16,519.24 L79.41,517.97 L78.12,516.05 L78.98,515.37 L80.56,517.06 L82.07,516.13 L81.27,513.96 L82.27,513.50 L83.40,515.53 L85.09,514.99 L84.84,512.69 L85.92,512.48 L86.52,514.72Z" fill="#fff"/>
<circle cx="88.3" cy="528.1" r="8.6" fill="#cba6cf"/>
<path d="M93.2,508 Q120.5,525 104.6,539.6 Q111.5,525 93.2,508 Z" fill="#fff"/>
<path d="M94.4,506.6 Q125,512 111.3,534.7 Q116,515 94.4,506.6 Z" fill="#fff"/>
<g fill="#fff"><circle cx="83" cy="480.5" r="10.5"/><circle cx="88" cy="470.2" r="6.9"/><circle cx="104.2" cy="470.4" r="11"/><circle cx="111.5" cy="481.5" r="9.4"/><rect x="83" y="472" width="28.5" height="18.9"/></g>
<path d="M125.9,469.5 L135.5,477.6" stroke="#fff" stroke-width="1.1"/><path d="M138.6,472.3 L141.8,482.5 L131.2,480.7 Z" fill="#fff"/>
<path d="M145,493.2 L136.8,501.8" stroke="#fff" stroke-width="1.1"/><path d="M133.6,497.3 L130.9,507.7 L141.4,505 Z" fill="#fff"/>
<path d="M146,585 L153,579.8 L183.3,579.8 L176.6,585 Z" fill="#3f86cc"/>
<rect x="146" y="585" width="30.6" height="20" fill="#68cdf5"/>
<path d="M176.6,585 L183.3,579.8 L183.3,605 L176.6,605 Z" fill="#009fe0"/>
<text x="191.2" y="599.4" font-size="17" fill="#4a4a4a" text-anchor="start" textLength="91.3" lengthAdjust="spacingAndGlyphs" >Container(s)</text></svg>
</body></html>
